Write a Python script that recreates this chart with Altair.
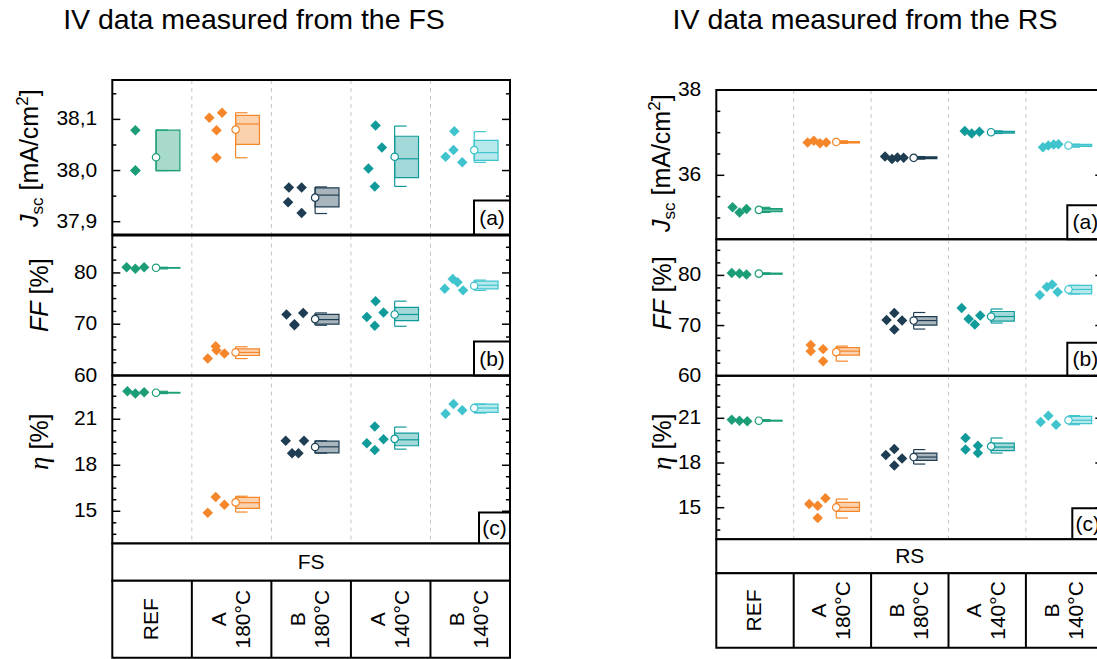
import altair as alt
import pandas as pd

FONT = "Liberation Sans"
SERIF = "Liberation Serif"

GROUPS = ["REF", "A 180°C", "B 180°C", "A 140°C", "B 140°C"]
TABLE_LABELS = ["REF", "A\n180°C", "B\n180°C", "A\n140°C", "B\n140°C"]
COLORS = ["#1b9e77", "#f5862a", "#1e3d52", "#109a9a", "#3fc4ce"]

# ---------------- FS : Jsc ----------------
FS_JSC_GRP = [0, 0, 0, 1, 1, 1, 1, 2, 2, 2, 2, 3, 3, 3, 3, 4, 4, 4, 4]
FS_JSC_VAL = [38.079, 38.000, 38.000, 38.103, 38.113, 38.079, 38.025,
              37.967, 37.967, 37.938, 37.917, 38.088, 38.045, 38.004, 37.969,
              38.077, 38.040, 38.027, 38.016]
FS_JSC_JIT = [0.29, 0.29, 0.29, 0.22, 0.38, 0.31, 0.31, 0.22, 0.38, 0.21, 0.38,
              0.31, 0.39, 0.22, 0.30, 0.30, 0.29, 0.19, 0.40]
FS_JSC_LO = [38.000, 38.025, 37.916, 37.969, 38.016]
FS_JSC_Q1 = [38.000, 38.051, 37.929, 37.986, 38.020]
FS_JSC_MED = [38.000, 38.091, 37.952, 38.023, 38.035]
FS_JSC_Q3 = [38.079, 38.108, 37.966, 38.067, 38.059]
FS_JSC_HI = [38.079, 38.113, 37.968, 38.087, 38.076]
FS_JSC_MEAN = [38.026, 38.080, 37.947, 38.027, 38.040]

# ---------------- FS : FF ----------------
FS_FF_GRP = [0, 0, 0, 1, 1, 1, 1, 2, 2, 2, 2, 3, 3, 3, 3, 4, 4, 4, 4]
FS_FF_VAL = [81.1, 80.8, 81.1, 63.3, 65.7, 64.9, 64.3, 71.9, 72.2, 70.0, 69.8,
             74.5, 72.3, 71.4, 69.7, 76.9, 78.8, 78.2, 76.6]
FS_FF_JIT = [0.18, 0.29, 0.40, 0.20, 0.30, 0.31, 0.41, 0.19, 0.40, 0.29, 0.29,
             0.31, 0.41, 0.20, 0.30, 0.18, 0.28, 0.34, 0.41]
FS_FF_LO = [80.8, 63.3, 69.8, 69.6, 76.6]
FS_FF_Q1 = [80.95, 63.9, 70.0, 70.7, 76.9]
FS_FF_MED = [81.0, 64.5, 70.9, 71.9, 77.6]
FS_FF_Q3 = [81.05, 65.2, 71.9, 73.3, 78.4]
FS_FF_HI = [81.1, 65.6, 72.2, 74.5, 78.6]
FS_FF_MEAN = [81.0, 64.5, 71.0, 71.9, 77.5]

# ---------------- FS : eta ----------------
FS_ETA_GRP = [0, 0, 0, 1, 1, 1, 2, 2, 2, 2, 3, 3, 3, 3, 4, 4, 4]
FS_ETA_VAL = [22.82, 22.67, 22.76, 14.90, 15.93, 15.43, 19.59, 19.59, 18.79, 18.79,
              20.53, 19.70, 19.44, 19.00, 21.36, 21.99, 21.58]
FS_ETA_JIT = [0.19, 0.29, 0.40, 0.20, 0.30, 0.41, 0.18, 0.41, 0.26, 0.34,
              0.30, 0.41, 0.20, 0.30, 0.19, 0.29, 0.40]
FS_ETA_LO = [22.67, 14.95, 18.79, 19.05, 21.40]
FS_ETA_Q1 = [22.71, 15.19, 18.81, 19.27, 21.45]
FS_ETA_MED = [22.73, 15.56, 19.20, 19.66, 21.73]
FS_ETA_Q3 = [22.75, 15.91, 19.57, 20.09, 21.99]
FS_ETA_HI = [22.82, 15.98, 19.59, 20.49, 21.99]
FS_ETA_MEAN = [22.73, 15.58, 19.19, 19.72, 21.73]

# ---------------- RS : Jsc ----------------
RS_JSC_GRP = [0, 0, 0, 1, 1, 1, 1, 2, 2, 2, 2, 3, 3, 3, 4, 4, 4, 4]
RS_JSC_VAL = [35.25, 35.13, 35.21, 36.77, 36.81, 36.75, 36.77, 36.44, 36.38, 36.42, 36.41,
              37.04, 36.98, 37.02, 36.66, 36.70, 36.72, 36.73]
RS_JSC_JIT = [0.21, 0.30, 0.39, 0.18, 0.26, 0.34, 0.42, 0.18, 0.27, 0.34, 0.42,
              0.21, 0.30, 0.40, 0.22, 0.29, 0.36, 0.42]
RS_JSC_LO = [35.13, 36.75, 36.38, 36.98, 36.66]
RS_JSC_Q1 = [35.15, 36.76, 36.39, 36.99, 36.68]
RS_JSC_MED = [35.19, 36.77, 36.415, 37.02, 36.71]
RS_JSC_Q3 = [35.22, 36.79, 36.43, 37.03, 36.725]
RS_JSC_HI = [35.25, 36.81, 36.44, 37.04, 36.73]
RS_JSC_MEAN = [35.19, 36.78, 36.41, 37.01, 36.70]

# ---------------- RS : FF ----------------
RS_FF_GRP = [0, 0, 0, 1, 1, 1, 1, 2, 2, 2, 2, 3, 3, 3, 3, 4, 4, 4, 4]
RS_FF_VAL = [80.5, 80.4, 80.2, 66.1, 64.9, 65.3, 62.9, 72.5, 71.1, 71.0, 69.2,
             73.5, 71.3, 70.2, 72.0, 76.1, 77.7, 78.2, 76.7]
RS_FF_JIT = [0.20, 0.30, 0.39, 0.22, 0.22, 0.38, 0.38, 0.30, 0.20, 0.40, 0.30,
             0.17, 0.26, 0.34, 0.41, 0.18, 0.27, 0.34, 0.41]
RS_FF_LO = [80.2, 62.9, 69.3, 70.5, 76.3]
RS_FF_Q1 = [80.25, 64.1, 70.1, 70.9, 76.3]
RS_FF_MED = [80.35, 64.9, 71.0, 71.8, 77.2]
RS_FF_Q3 = [80.45, 65.6, 71.8, 72.8, 78.0]
RS_FF_HI = [80.5, 65.9, 72.6, 73.3, 78.0]
RS_FF_MEAN = [80.35, 64.7, 71.0, 71.8, 77.2]

# ---------------- RS : eta ----------------
RS_ETA_GRP = [0, 0, 0, 1, 1, 1, 1, 2, 2, 2, 2, 3, 3, 3, 3, 4, 4, 4]
RS_ETA_VAL = [20.91, 20.84, 20.80, 15.25, 15.13, 15.63, 14.31, 18.94, 18.54, 18.31, 17.84,
              19.68, 18.90, 19.16, 18.67, 20.75, 21.18, 20.57]
RS_ETA_JIT = [0.20, 0.30, 0.40, 0.20, 0.31, 0.41, 0.31, 0.30, 0.19, 0.40, 0.30,
              0.22, 0.22, 0.38, 0.38, 0.19, 0.29, 0.39]
RS_ETA_LO = [20.80, 14.31, 17.93, 18.67, 20.57]
RS_ETA_Q1 = [20.82, 14.75, 18.18, 18.83, 20.64]
RS_ETA_MED = [20.84, 15.02, 18.40, 19.07, 20.87]
RS_ETA_Q3 = [20.87, 15.36, 18.67, 19.34, 21.13]
RS_ETA_HI = [20.91, 15.58, 18.90, 19.68, 21.18]
RS_ETA_MEAN = [20.84, 15.02, 18.40, 19.12, 20.87]

# ---------------- axis ticks ----------------
JSC_FS_MAJOR = [37.9, 38.0, 38.1]
JSC_FS_LABELS = ["37,9", "38,0", "38,1"]
JSC_FS_MINOR = [37.95, 38.05, 38.15]
JSC_RS_MAJOR = [36, 38]
JSC_RS_LABELS = ["36", "38"]
JSC_RS_MINOR = [35, 35.5, 36.5, 37, 37.5]
FF_MAJOR = [60, 70, 80]
FF_LABELS = ["60", "70", "80"]
FF_MINOR = [62.5, 65, 67.5, 72.5, 75, 77.5, 82.5, 85]
ETA_MAJOR = [15, 18, 21]
ETA_LABELS = ["15", "18", "21"]
ETA_MINOR = [13.5, 14.25, 15.75, 16.5, 17.25, 18.75, 19.5, 20.25, 21.75, 22.5, 23.25]

# ---------------- layout (pixels) ----------------
W, H = 1097, 659
BOX_L, BOX_R, CAP_R = 0.55, 0.85, 0.70
LABEL_SIZE = 21
TITLE_SIZE = 25
SUB_SIZE = 17

CSCALE = alt.Scale(domain=GROUPS, range=COLORS)
ONE = pd.DataFrame({"a": [0]})


def make_panel(grp, val, jit, stats, domain, xl, xr, ytop, ybot,
               majors, labels, minors, tag, tagw, tagh):
    xs = alt.Scale(domain=[0, 5], range=[xl, xr], nice=False, zero=False)
    ys = alt.Scale(domain=domain, range=[ybot, ytop], nice=False, zero=False)
    X = lambda f: alt.X(f, type="quantitative", scale=xs, axis=None)
    Y = lambda f: alt.Y(f, type="quantitative", scale=ys, axis=None)
    col = alt.Color("c:N", scale=CSCALE, legend=None)

    pts = pd.DataFrame({"g": grp, "v": val, "j": jit})
    pts["x"] = pts["g"] + pts["j"]
    pts["c"] = [GROUPS[g] for g in grp]
    lo, q1, med, q3, hi, mean = stats
    st = pd.DataFrame({"g": list(range(5)), "lo": lo, "q1": q1, "med": med,
                       "q3": q3, "hi": hi, "mean": mean})
    st["x0"] = st["g"] + BOX_L
    st["x1"] = st["g"] + BOX_R
    st["xc"] = st["g"] + CAP_R
    st["c"] = GROUPS

    seps = alt.Chart(pd.DataFrame({"b": [1, 2, 3, 4]})).mark_rule(
        color="#c4c4c4", strokeDash=[4, 4], strokeWidth=1
    ).encode(x=X("b"), y=alt.value(ytop), y2=alt.value(ybot))

    whisk = alt.Chart(st).mark_rule(strokeWidth=1.2).encode(
        x=X("x0"), y=Y("lo"), y2="hi", color=col)
    cap_lo = alt.Chart(st).mark_rule(strokeWidth=1.2).encode(
        x=X("x0"), x2="xc", y=Y("lo"), color=col)
    cap_hi = alt.Chart(st).mark_rule(strokeWidth=1.2).encode(
        x=X("x0"), x2="xc", y=Y("hi"), color=col)
    box = alt.Chart(st).mark_rect(fillOpacity=0.38, strokeWidth=1.2).encode(
        x=X("x0"), x2="x1", y=Y("q1"), y2="q3",
        fill=alt.Fill("c:N", scale=CSCALE, legend=None),
        stroke=alt.Stroke("c:N", scale=CSCALE, legend=None))
    median = alt.Chart(st).mark_rule(strokeWidth=1.2).encode(
        x=X("x0"), x2="x1", y=Y("med"), color=col)
    diam = alt.Chart(pts).mark_point(shape="diamond", filled=True, size=110, opacity=1).encode(
        x=X("x"), y=Y("v"), color=col)
    meanpt = alt.Chart(st).mark_point(shape="circle", filled=True, fill="white",
                                      opacity=1, size=55, strokeWidth=1.2).encode(
        x=X("x0"), y=Y("mean"), stroke=alt.Stroke("c:N", scale=CSCALE, legend=None))

    majdf = pd.DataFrame({"t": majors, "s": labels})
    mindf = pd.DataFrame({"t": minors})
    tick_layers = []
    for df, ln in ((majdf, 8), (mindf, 4)):
        tick_layers.append(alt.Chart(df).mark_rule(color="black", strokeWidth=1.5).encode(
            y=Y("t"), x=alt.value(xl), x2=alt.value(xl + ln)))
        tick_layers.append(alt.Chart(df).mark_rule(color="black", strokeWidth=1.5).encode(
            y=Y("t"), x=alt.value(xr - ln), x2=alt.value(xr)))
    labs = alt.Chart(majdf).mark_text(align="right", baseline="middle", font=FONT,
                                      fontSize=LABEL_SIZE, color="black").encode(
        y=Y("t"), x=alt.value(xl - 15), text="s:N")

    frame = alt.Chart(ONE).mark_rect(fill="transparent", stroke="black", strokeWidth=2).encode(
        x=alt.value(xl), x2=alt.value(xr), y=alt.value(ytop), y2=alt.value(ybot))
    tagbox = alt.Chart(ONE).mark_rect(fill="white", stroke="black", strokeWidth=2).encode(
        x=alt.value(xr - tagw), x2=alt.value(xr), y=alt.value(ybot - tagh), y2=alt.value(ybot))
    tagtxt = alt.Chart(ONE).mark_text(font=FONT, fontSize=LABEL_SIZE, baseline="middle",
                                      align="center", color="black").encode(
        x=alt.value(xr - tagw / 2), y=alt.value(ybot - tagh / 2 + 1), text=alt.value(tag))

    return alt.layer(seps, whisk, box, median, cap_lo, cap_hi, diam, meanpt,
                     *tick_layers, frame, labs, tagbox, tagtxt)


def make_table(xl, xr, r1, r2, name):
    xs = alt.Scale(domain=[0, 5], range=[xl, xr], nice=False, zero=False)
    row1 = alt.Chart(ONE).mark_rect(fill="white", stroke="black", strokeWidth=2).encode(
        x=alt.value(xl), x2=alt.value(xr), y=alt.value(r1[0]), y2=alt.value(r1[1]))
    row2 = alt.Chart(ONE).mark_rect(fill="white", stroke="black", strokeWidth=2).encode(
        x=alt.value(xl), x2=alt.value(xr), y=alt.value(r2[0]), y2=alt.value(r2[1]))
    name_txt = alt.Chart(ONE).mark_text(font=FONT, fontSize=LABEL_SIZE, baseline="middle",
                                        align="center", color="black").encode(
        x=alt.value((xl + xr) / 2), y=alt.value((r1[0] + r1[1]) / 2 + 1), text=alt.value(name))
    lines = alt.Chart(pd.DataFrame({"b": [1, 2, 3, 4]})).mark_rule(color="black", strokeWidth=2).encode(
        x=alt.X("b:Q", scale=xs, axis=None), y=alt.value(r2[0]), y2=alt.value(r2[1]))
    catdf = pd.DataFrame({"gc": [0.5, 1.5, 2.5, 3.5, 4.5], "t": TABLE_LABELS})
    catdf["n"] = [t.count("\n") + 1 for t in TABLE_LABELS]
    out = [row1, row2, name_txt, lines]
    for n in (1, 2):
        sub = catdf[catdf["n"] == n]
        out.append(alt.Chart(sub).mark_text(
            angle=270, lineBreak="\n", font=FONT, fontSize=LABEL_SIZE, baseline="middle",
            align="center", lineHeight=24, dy=-12 * (n - 1), color="black").encode(
            x=alt.X("gc:Q", scale=xs, axis=None), y=alt.value((r2[0] + r2[1]) / 2),
            text="t:N"))
    return alt.layer(*out)


def rot_text(parts, xb, ybottom):
    # parts: (text, size, style, font, dx, lead_em, width_em)
    out = []
    y = ybottom
    for text, size, style, font, dx, lead, wem in parts:
        y -= lead * size
        out.append(alt.Chart(ONE).mark_text(angle=270, align="left", baseline="alphabetic",
                                            font=font, fontSize=size, fontStyle=style,
                                            color="black").encode(
            x=alt.value(xb + dx), y=alt.value(y), text=alt.value(text)))
        y -= wem * size
    return out


def jsc_title(xb, yb):
    return rot_text([("J", TITLE_SIZE, "italic", FONT, 0, 0, 0.5),
                     ("sc", SUB_SIZE, "normal", FONT, 5, 0, 1.0),
                     ("[mA/cm", TITLE_SIZE, "normal", FONT, 0, 0.278, 3.389),
                     ("2", SUB_SIZE, "normal", FONT, -10, 0, 0.556),
                     ("]", TITLE_SIZE, "normal", FONT, 0, 0, 0.278)], xb, yb)


def ff_title(xb, yb):
    return rot_text([("FF", TITLE_SIZE, "italic", FONT, 0, 0, 1.222),
                     ("[%]", TITLE_SIZE, "normal", FONT, 0, 0.278, 1.445)], xb, yb)


def eta_title(xb, yb):
    return rot_text([("η", TITLE_SIZE + 2, "italic", SERIF, 0, 0, 0.5),
                     ("[%]", TITLE_SIZE, "normal", FONT, 0, 0.278, 1.445)], xb, yb)


def main_title(text, xc):
    return alt.Chart(ONE).mark_text(font=FONT, fontSize=28.5, align="center",
                                    baseline="alphabetic", color="black").encode(
        x=alt.value(xc), y=alt.value(29), text=alt.value(text))


# left (FS) figure
LX0, LX1 = 112.3, 510.0
L_A, L_B, L_C = (80.0, 234.5), (235.5, 375.5), (375.5, 543.5)
L_R1, L_R2 = (543.5, 580.7), (580.7, 657.7)
# right (RS) figure
RX0, RX1 = 716.3, 1103.3
R_A, R_B, R_C = (90.0, 239.3), (239.3, 375.7), (375.7, 539.3)
R_R1, R_R2 = (539.3, 573.3), (573.3, 647.7)

layers = [
    main_title("IV data measured from the FS", 254),
    main_title("IV data measured from the RS", 865),
    make_panel(FS_JSC_GRP, FS_JSC_VAL, FS_JSC_JIT,
               (FS_JSC_LO, FS_JSC_Q1, FS_JSC_MED, FS_JSC_Q3, FS_JSC_HI, FS_JSC_MEAN),
               [37.875, 38.177], LX0, LX1, L_A[0], L_A[1],
               JSC_FS_MAJOR, JSC_FS_LABELS, JSC_FS_MINOR, "(a)", 36, 34),
    make_panel(FS_FF_GRP, FS_FF_VAL, FS_FF_JIT,
               (FS_FF_LO, FS_FF_Q1, FS_FF_MED, FS_FF_Q3, FS_FF_HI, FS_FF_MEAN),
               [60, 87.3], LX0, LX1, L_B[0], L_B[1],
               FF_MAJOR, FF_LABELS, FF_MINOR, "(b)", 36, 34),
    make_panel(FS_ETA_GRP, FS_ETA_VAL, FS_ETA_JIT,
               (FS_ETA_LO, FS_ETA_Q1, FS_ETA_MED, FS_ETA_Q3, FS_ETA_HI, FS_ETA_MEAN),
               [12.9, 23.85], LX0, LX1, L_C[0], L_C[1],
               ETA_MAJOR, ETA_LABELS, ETA_MINOR, "(c)", 31, 31),
    make_table(LX0, LX1, L_R1, L_R2, "FS"),
    make_panel(RS_JSC_GRP, RS_JSC_VAL, RS_JSC_JIT,
               (RS_JSC_LO, RS_JSC_Q1, RS_JSC_MED, RS_JSC_Q3, RS_JSC_HI, RS_JSC_MEAN),
               [34.5, 38.0], RX0, RX1, R_A[0], R_A[1],
               JSC_RS_MAJOR, JSC_RS_LABELS, JSC_RS_MINOR, "(a)", 36, 34),
    make_panel(RS_FF_GRP, RS_FF_VAL, RS_FF_JIT,
               (RS_FF_LO, RS_FF_Q1, RS_FF_MED, RS_FF_Q3, RS_FF_HI, RS_FF_MEAN),
               [60, 87.2], RX0, RX1, R_B[0], R_B[1],
               FF_MAJOR, FF_LABELS, FF_MINOR, "(b)", 36, 33),
    make_panel(RS_ETA_GRP, RS_ETA_VAL, RS_ETA_JIT,
               (RS_ETA_LO, RS_ETA_Q1, RS_ETA_MED, RS_ETA_Q3, RS_ETA_HI, RS_ETA_MEAN),
               [12.88, 23.86], RX0, RX1, R_C[0], R_C[1],
               ETA_MAJOR, ETA_LABELS, ETA_MINOR, "(c)", 31, 31),
    make_table(RX0, RX1, R_R1, R_R2, "RS"),
]
layers += jsc_title(38, 227)
layers += ff_title(48, 332)
layers += eta_title(48, 470)
layers += jsc_title(670, 232)
layers += ff_title(671, 330)
layers += eta_title(671, 470)

chart = alt.layer(*layers).resolve_scale(x="independent", y="independent").properties(
    width=W, height=H, autosize=alt.AutoSizeParams(type="none"), padding=0,
    background="white"
).configure_view(strokeWidth=0)

chart.save("out.html", embed_options={"renderer": "svg", "actions": False})
